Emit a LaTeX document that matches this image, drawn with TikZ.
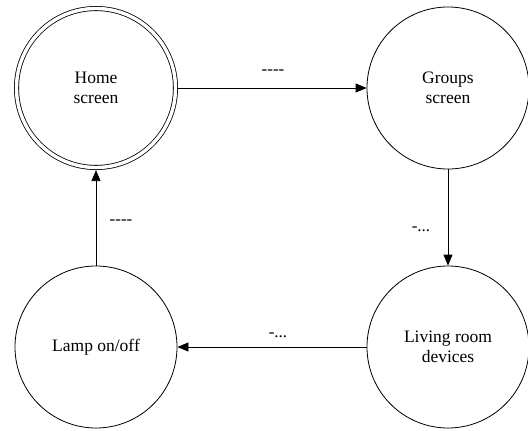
\documentclass[tikz,border=0pt]{standalone}
\usepackage{fontspec}
\setmainfont{Liberation Serif}[Ligatures=TeXOff]
\usetikzlibrary{arrows.meta}

\begin{document}
\begin{tikzpicture}[x=1pt, y=-1pt,
		state/.style={draw, circle, line width=0.8pt, minimum size=162pt, inner sep=0pt, align=center, font=\fontsize{17.5}{20}\selectfont},
		startstate/.style={state, double, double distance=3.4pt, minimum size=159pt, outer sep=2.6pt},
		link/.style={-{Triangle[length=11pt, width=9pt]}, line width=0.8pt},
		lbl/.style={inner sep=0pt, font=\fontsize{17}{20}\selectfont}]
		\useasboundingbox (0,0) rectangle (528,431);
		
		\node [startstate] (home) at (96,88) {Home\\screen}; % Startskärmen
		\node [state] (groups) at (448,88) {Groups\\screen};
		\node [state] (living) at (448,347) {Living room\\devices};
		\node [state] (lamp) at (96,347) {Lamp on/off};
		
		\draw [link] (home) -- (groups); % Övergångar
		\draw [link] (groups) -- (living);
		\draw [link] (living) -- (lamp);
		\draw [link] (lamp) -- (home);
		
		\node [lbl] (homegroups) at (273,72) {----};
		\node [lbl] (groupsliving) at (421,229) {-...};
		\node [lbl] (livinglamp) at (278,335) {-...};
		\node [lbl] (lamphome) at (121,222) {----};
	\end{tikzpicture}
\end{document}
